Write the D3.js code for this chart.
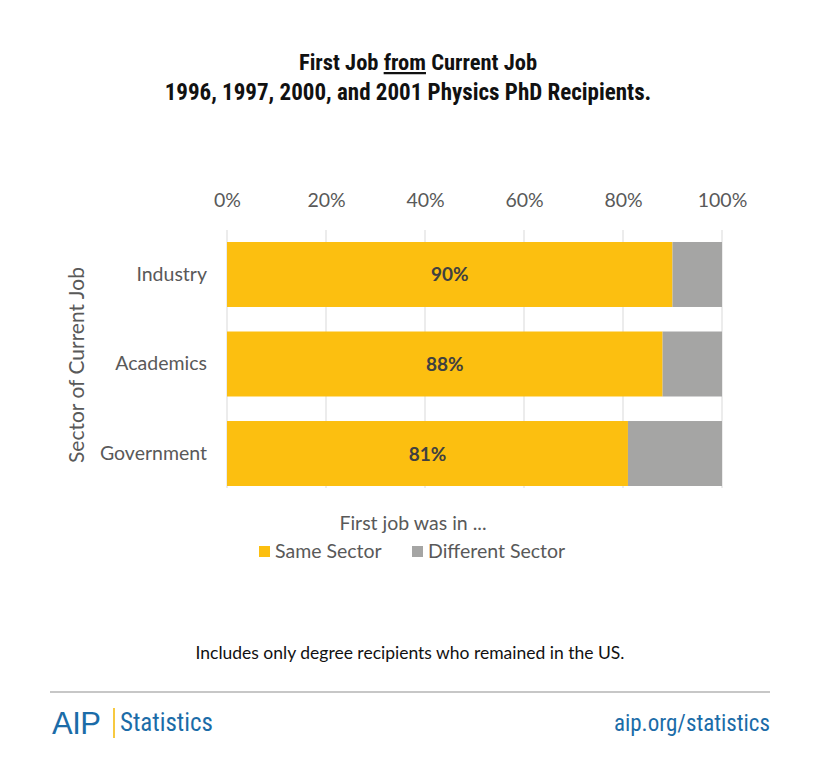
<!DOCTYPE html>
<html><head><meta charset="utf-8">
<script src="https://cdn.jsdelivr.net/npm/d3@7"></script>
<style>body{margin:0;background:#fff}</style>
</head><body>
<svg id="c" width="820" height="773"></svg>
<script>
const categories = ["Industry", "Academics", "Government"];
const sameSector = [0.90, 0.88, 0.81];
const differentSector = [0.10, 0.12, 0.19];
const tickValues = [0, 0.2, 0.4, 0.6, 0.8, 1.0];
const seriesNames = ["Same Sector", "Different Sector"];
const colors = ["#FCBF10", "#A5A5A4"];

const svg = d3.select("#c");
const cond = "'Liberation Sans Narrow','Roboto Condensed','Arial Narrow',sans-serif";
const body = "Lato,'Open Sans',sans-serif";

// Title
svg.append("text").attr("x", 418).attr("y", 70).attr("text-anchor", "middle")
  .attr("font-family", cond).attr("font-weight", "bold").attr("font-size", 22.5).attr("fill", "#111")
  .call(t => {
    t.append("tspan").text("First Job ");
    t.append("tspan").attr("text-decoration", "underline").text("from");
    t.append("tspan").text(" Current Job");
  });
svg.append("text").attr("x", 408).attr("y", 100).attr("text-anchor", "middle")
  .attr("font-family", cond).attr("font-weight", "bold").attr("font-size", 23).attr("fill", "#111")
  .text("1996, 1997, 2000, and 2001 Physics PhD Recipients.");

const x = d3.scaleLinear().domain([0, 1]).range([227, 722]);
const y = d3.scaleBand().domain(categories).range([242, 486]).paddingInner(0.274).paddingOuter(0);

// gridlines
svg.append("g").selectAll("line").data(tickValues).join("line")
  .attr("x1", d => x(d)).attr("x2", d => x(d)).attr("y1", 230).attr("y2", 488)
  .attr("stroke", "#d9d9d9").attr("stroke-width", 1);

// top axis
const ax = svg.append("g").attr("transform", "translate(0,210)")
  .call(d3.axisTop(x).tickValues(tickValues).tickFormat(d3.format(".0%")).tickSize(0));
ax.select(".domain").remove();
ax.selectAll("text").attr("font-family", body).attr("font-size", 19.5).attr("fill", "#595959");

// bars
const rows = categories.map((c, i) => ({c, s: sameSector[i], d: differentSector[i]}));
svg.append("g").selectAll("rect").data(rows).join("rect")
  .attr("x", x(0)).attr("y", d => y(d.c)).attr("width", d => x(d.s) - x(0)).attr("height", y.bandwidth())
  .attr("fill", colors[0]);
svg.append("g").selectAll("rect").data(rows).join("rect")
  .attr("x", d => x(d.s)).attr("y", d => y(d.c)).attr("width", d => x(d.s + d.d) - x(d.s)).attr("height", y.bandwidth())
  .attr("fill", colors[1]);
svg.append("g").selectAll("text").data(rows).join("text")
  .attr("x", d => (x(0) + x(d.s)) / 2).attr("y", d => y(d.c) + y.bandwidth() / 2 + 7)
  .attr("text-anchor", "middle").attr("font-family", body).attr("font-weight", "bold")
  .attr("font-size", 19).attr("fill", "#404040").text(d => d3.format(".0%")(d.s));

// y axis
const ay = svg.append("g").attr("transform", "translate(207,0)")
  .call(d3.axisLeft(y).tickSize(0).tickPadding(0));
ay.select(".domain").remove();
ay.selectAll("text").attr("font-family", body).attr("font-size", 19.5).attr("fill", "#595959");

svg.append("text").attr("transform", "translate(84,365) rotate(-90)").attr("text-anchor", "middle")
  .attr("font-family", body).attr("font-size", 21).attr("fill", "#595959").text("Sector of Current Job");

// legend
svg.append("text").attr("x", 413).attr("y", 530).attr("text-anchor", "middle")
  .attr("font-family", body).attr("font-size", 19.5).attr("fill", "#595959").text("First job was in ...");
const legX = [259, 412];
const lg = svg.append("g").selectAll("g").data(seriesNames).join("g")
  .attr("transform", (d, i) => `translate(${legX[i]},546)`);
lg.append("rect").attr("width", 11).attr("height", 11).attr("fill", (d, i) => colors[i]);
lg.append("text").attr("x", 16).attr("y", 12).attr("font-family", body).attr("font-size", 19.5)
  .attr("fill", "#595959").text(d => d);

// footnote
svg.append("text").attr("x", 410).attr("y", 659).attr("text-anchor", "middle")
  .attr("font-family", body).attr("font-size", 17.5).attr("fill", "#111")
  .text("Includes only degree recipients who remained in the US.");

svg.append("line").attr("x1", 50).attr("x2", 770).attr("y1", 692).attr("y2", 692)
  .attr("stroke", "#b5b5b5").attr("stroke-width", 1.5);

// footer
const blue = "#1B6CA8";
svg.append("text").attr("x", 52).attr("y", 734).attr("font-family", "'Liberation Sans',Arial,sans-serif")
  .attr("font-size", 31).attr("fill", blue).attr("letter-spacing", -0.5).text("AIP");
svg.append("line").attr("x1", 114).attr("x2", 114).attr("y1", 708).attr("y2", 738)
  .attr("stroke", "#F5B700").attr("stroke-width", 1.5);
svg.append("text").attr("x", 120).attr("y", 731).attr("font-family", cond)
  .attr("font-size", 25).attr("fill", blue).text("Statistics");
svg.append("text").attr("x", 770).attr("y", 731).attr("text-anchor", "end").attr("font-family", cond)
  .attr("font-size", 23).attr("fill", blue).text("aip.org/statistics");
</script>
</body></html>
